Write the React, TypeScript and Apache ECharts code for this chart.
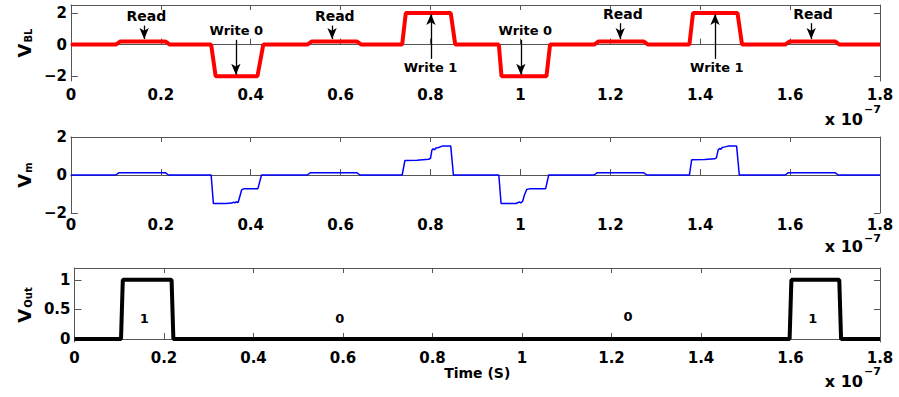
import React, { useEffect, useRef } from 'react';
import * as echarts from 'echarts';

// ---------- data (time in units of 1e-7 s) ----------
const xTicks = [0, 0.2, 0.4, 0.6, 0.8, 1, 1.2, 1.4, 1.6, 1.8];
const vblTicks = [-2, 0, 2];
const vmTicks = [-2, 0, 2];
const voutTicks = [0, 0.5, 1];

const vblTime = [0, 0.1, 0.11, 0.21, 0.22, 0.312, 0.322, 0.415, 0.428, 0.526, 0.536, 0.636, 0.646, 0.737, 0.745, 0.845, 0.855, 0.952, 0.958, 1.058, 1.066, 1.164, 1.174, 1.274, 1.284, 1.376, 1.384, 1.483, 1.493, 1.589, 1.599, 1.7, 1.71, 1.8];
const vblValue = [0, 0, 0.2, 0.2, 0, 0, -2, -2, 0, 0, 0.2, 0.2, 0, 0, 2, 2, 0, 0, -2, -2, 0, 0, 0.2, 0.2, 0, 0, 2, 2, 0, 0, 0.2, 0.2, 0, 0];

const vmTime = [0, 0.1, 0.107, 0.21, 0.217, 0.312, 0.317, 0.345, 0.358, 0.362, 0.365, 0.368, 0.372, 0.375, 0.38, 0.385, 0.416, 0.424, 0.526, 0.533, 0.636, 0.643, 0.737, 0.743, 0.77, 0.796, 0.8, 0.803, 0.806, 0.809, 0.812, 0.818, 0.826, 0.845, 0.851, 0.952, 0.957, 0.99, 0.994, 0.998, 1.001, 1.005, 1.009, 1.014, 1.02, 1.056, 1.063, 1.164, 1.171, 1.274, 1.281, 1.376, 1.381, 1.41, 1.432, 1.436, 1.44, 1.443, 1.446, 1.449, 1.455, 1.462, 1.481, 1.487, 1.589, 1.596, 1.7, 1.707, 1.8];
const vmValue = [0, 0, 0.12, 0.12, 0, 0, -1.5, -1.5, -1.48, -1.43, -1.47, -1.41, -1.45, -1.2, -0.78, -0.72, -0.72, 0, 0, 0.12, 0.12, 0, 0, 0.76, 0.78, 0.83, 0.88, 1.3, 1.38, 1.32, 1.42, 1.45, 1.52, 1.52, 0, 0, -1.5, -1.5, -1.46, -1.42, -1.47, -1.38, -1.05, -0.76, -0.73, -0.73, 0, 0, 0.12, 0.12, 0, 0, 0.8, 0.82, 0.85, 0.9, 1.32, 1.4, 1.35, 1.45, 1.48, 1.52, 1.52, 0, 0, 0.12, 0.12, 0, 0];

const voutTime = [0, 0.104, 0.108, 0.217, 0.221, 1.598, 1.602, 1.709, 1.713, 1.8];
const voutValue = [0, 0, 1, 1, 0, 0, 1, 1, 0, 0];

// annotations
const readLabelX = [0.168, 0.587, 1.228, 1.651];
const readLabelY = [1.8, 1.8, 1.93, 1.93];
const readArrowX = [0.163, 0.581, 1.222, 1.647];
const readArrowFrom = [1.2, 1.2, 1.35, 1.35];
const readArrowTo = 0.35;

const write0LabelX = [0.368, 1.011];
const write0LabelY = 0.86;
const write0ArrowX = [0.367, 1.001];
const write0ArrowFrom = 0.3;
const write0ArrowTo = -1.9;

const write1LabelX = [0.8, 1.437];
const write1LabelY = -1.47;
const write1ArrowX = [0.801, 1.433];
const write1ArrowFrom = -0.9;
const write1ArrowTo = 1.93;

const outLabelText = ['1', '0', '0', '1'];
const outLabelX = [0.156, 0.593, 1.237, 1.65];
const outLabelY = [0.35, 0.35, 0.375, 0.35];

// ---------- layout ----------
const W = 899;
const H = 397;
const LEFT = 70;
const RIGHT = 19;
const TOPS = [5, 137, 268];
const HEIGHTS = [76, 76, 74];
const XLABEL_MARGINS = [6, 4, 8];
const EXP_Y = [119, 246, 381];
const EXP_SUP_OFFSET = [15, 13, 15];
const FONT = 'DejaVu Sans';
const AXIS_COLOR = '#555';

const zip = (a: number[], b: number[]) => a.map((t, i) => [t, b[i]]);
const fmtY = (v: number) => String(v).replace('-', '\u2212');

export default function App() {
  const ref = useRef<HTMLDivElement>(null);

  useEffect(() => {
    document.body.style.margin = '0';
    if (!ref.current) return;
    const chart = echarts.init(ref.current, undefined, { renderer: 'svg' });

    const tickLabel = { fontFamily: FONT, fontWeight: 'bold' as const, fontSize: 15, color: '#000' };
    const annoLabel = { fontFamily: FONT, fontWeight: 'bold' as const, fontSize: 13, color: '#000' };

    const xAxes: any[] = [];
    const yAxes: any[] = [];
    const yRanges = [
      { min: -2.3, max: 2.5, ticks: vblTicks },
      { min: -2, max: 2, ticks: vmTicks },
      { min: -0.05, max: 1.2, ticks: voutTicks },
    ];
    const yNames = ['{v|V}{s|BL}', '{v|V}{s|m}', '{v|V}{s|Out}'];
    const yNameGaps = [30, 32, 38];

    for (let g = 0; g < 3; g++) {
      xAxes.push({
        type: 'value', gridIndex: g, position: 'bottom', min: 0, max: 1.8, interval: 0.2,
        axisLine: { show: true, lineStyle: { color: AXIS_COLOR, width: 1 } },
        axisTick: { show: true, inside: true, length: 6, lineStyle: { color: AXIS_COLOR } },
        axisLabel: { ...tickLabel, margin: XLABEL_MARGINS[g], customValues: xTicks },
        splitLine: { show: false },
        ...(g === 2
          ? {
              name: 'Time (S)', nameLocation: 'middle', nameGap: 24,
              nameTextStyle: { fontFamily: FONT, fontWeight: 'bold', fontSize: 14, color: '#000' },
            }
          : {}),
      });
      xAxes.push({
        type: 'value', gridIndex: g, position: 'top', min: 0, max: 1.8, interval: 0.2,
        axisLine: { show: true, onZero: false, lineStyle: { color: AXIS_COLOR, width: 1 } },
        axisTick: { show: true, inside: true, length: 5, lineStyle: { color: AXIS_COLOR } },
        axisLabel: { show: false },
        splitLine: { show: false },
      });
      const r = yRanges[g];
      yAxes.push({
        type: 'value', gridIndex: g, position: 'left', min: r.min, max: r.max,
        axisLine: { show: true, onZero: false, lineStyle: { color: AXIS_COLOR, width: 1 } },
        axisTick: { show: true, inside: true, length: 7, lineStyle: { color: AXIS_COLOR }, customValues: r.ticks },
        axisLabel: { ...tickLabel, margin: 4, customValues: r.ticks, formatter: fmtY },
        splitLine: { show: false },
        name: yNames[g], nameLocation: 'middle', nameRotate: 90, nameGap: yNameGaps[g],
        nameTextStyle: {
          color: '#000',
          rich: {
            v: { fontFamily: FONT, fontWeight: 'bold', fontSize: 18, lineHeight: 18, verticalAlign: 'top', color: '#000' },
            s: { fontFamily: FONT, fontWeight: 'bold', fontSize: 10, lineHeight: 10, padding: [15, 0, 0, 1], verticalAlign: 'bottom', color: '#000' },
          },
        },
      });
      yAxes.push({
        type: 'value', gridIndex: g, position: 'right', min: r.min, max: r.max,
        axisLine: { show: true, onZero: false, lineStyle: { color: AXIS_COLOR, width: 1 } },
        axisTick: { show: true, inside: true, length: 6, lineStyle: { color: AXIS_COLOR }, customValues: r.ticks },
        axisLabel: { show: false },
        splitLine: { show: false },
      });
    }

    const arrow = (x: number, y0: number, y1: number) => [{ coord: [x, y0] }, { coord: [x, y1] }];
    const lbl = (name: string, x: number, y: number, size?: number) => ({
      name, coord: [x, y], ...(size ? { label: { fontSize: size } } : {}),
    });

    const vblArrows = [
      ...readArrowX.map((x, i) => arrow(x, readArrowFrom[i], readArrowTo)),
      ...write0ArrowX.map((x) => arrow(x, write0ArrowFrom, write0ArrowTo)),
      ...write1ArrowX.map((x) => arrow(x, write1ArrowFrom, write1ArrowTo)),
    ];
    const vblLabels = [
      ...readLabelX.map((x, i) => lbl('Read', x, readLabelY[i], 14)),
      ...write0LabelX.map((x) => lbl('Write 0', x, write0LabelY)),
      ...write1LabelX.map((x) => lbl('Write 1', x, write1LabelY)),
    ];
    const outLabels = outLabelText.map((t, i) => lbl(t, outLabelX[i], outLabelY[i]));

    const markPointBase = {
      silent: true,
      symbol: 'circle',
      symbolSize: 1,
      itemStyle: { color: 'rgba(0,0,0,0)' },
      label: { show: true, position: 'inside', formatter: '{b}', ...annoLabel },
    };

    const expText = (y: number, off: number) => [
      {
        type: 'text', right: RIGHT + 17, top: y - 8,
        style: { text: 'x 10', font: `bold 16px "${FONT}"`, fill: '#000' },
      },
      {
        type: 'text', left: W - RIGHT - 16, top: y - off,
        style: { text: '\u22127', font: `bold 11px "${FONT}"`, fill: '#000' },
      },
    ];

    chart.setOption({
      animation: false,
      grid: TOPS.map((t, i) => ({ left: LEFT, right: RIGHT, top: t, height: HEIGHTS[i], containLabel: false })),
      xAxis: xAxes,
      yAxis: yAxes,
      graphic: EXP_Y.flatMap((y, i) => expText(y, EXP_SUP_OFFSET[i])),
      series: [
        {
          type: 'line', xAxisIndex: 0, yAxisIndex: 0, data: zip(vblTime, vblValue),
          showSymbol: false, lineStyle: { color: '#ff0000', width: 4 }, itemStyle: { color: '#ff0000' },
          silent: true, z: 2,
          markLine: {
            silent: true, symbol: ['none', 'arrow'], symbolSize: [7, 11],
            lineStyle: { color: '#000', width: 1.3, type: 'solid' },
            label: { show: false },
            data: vblArrows,
            z: 5,
          },
          markPoint: { ...markPointBase, data: vblLabels },
        },
        {
          type: 'line', xAxisIndex: 2, yAxisIndex: 2, data: zip(vmTime, vmValue),
          showSymbol: false, lineStyle: { color: '#0000ff', width: 1.5 }, itemStyle: { color: '#0000ff' },
          silent: true,
        },
        {
          type: 'line', xAxisIndex: 4, yAxisIndex: 4, data: zip(voutTime, voutValue),
          showSymbol: false, lineStyle: { color: '#000', width: 4 }, itemStyle: { color: '#000' },
          silent: true,
          markPoint: { ...markPointBase, data: outLabels },
        },
      ],
    });

    return () => chart.dispose();
  }, []);

  return <div ref={ref} style={{ width: W, height: H }} />;
}
